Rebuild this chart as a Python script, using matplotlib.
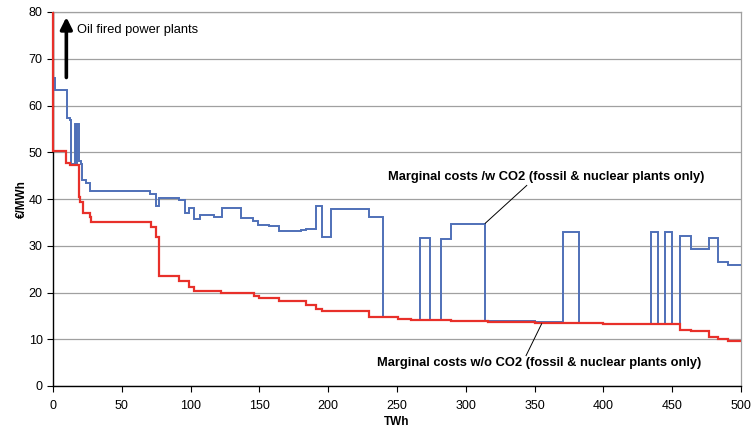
import matplotlib
matplotlib.use("Agg")
import matplotlib.pyplot as plt

plt.rcParams["font.family"] = ["Liberation Sans", "DejaVu Sans"]

# step edges (TWh) and levels (EUR/MWh)
red_edges = [0, 0, 9.7, 12.6, 18.8, 19.6, 21.7, 26.6, 27.3, 71.0, 75.0, 77.3,
             91.8, 99.1, 102.7, 122, 146, 150, 164, 184, 191.3, 195.7, 229.5,
             251, 260, 289, 316, 350, 400, 455.5, 463.8, 477, 483, 490.5, 500]
red_levels = [80, 50.2, 47.7, 47.2, 40.4, 39.3, 36.9, 36.2, 35.0, 34.0, 31.8,
              23.5, 22.5, 21.1, 20.4, 19.9, 19.3, 18.9, 18.1, 17.4, 16.5, 16.1,
              14.7, 14.4, 14.1, 13.9, 13.7, 13.5, 13.3, 12.0, 11.8, 10.4, 10.1, 9.6]

blue_edges = [0, 1.2, 10.1, 12.1, 12.8, 16.3, 17.0, 17.6, 18.6, 20.0, 21.3,
              24.2, 26.8, 70.5, 75.0, 76.8, 91.8, 96.0, 99.2, 102.8, 106.9,
              117, 122.7, 136.5, 145.2, 149, 157.3, 164, 180, 183.6, 190.9,
              195.2, 201.7, 229.5, 239.9, 251, 260, 266.4, 274.2, 281.9, 289.4,
              314.1, 350, 370.8, 382.2, 400, 434.4, 439.7, 444.9, 450, 455.5,
              463.8, 477.1, 483.1, 490.4, 500]
blue_levels = [65.8, 63.4, 57.4, 57.0, 47.4, 56.1, 47.4, 56.1, 48.2, 47.5,
               44.0, 43.4, 41.8, 41.0, 38.4, 40.3, 39.7, 37.1, 38.0, 35.7,
               36.5, 36.2, 38.1, 36.0, 35.3, 34.5, 34.2, 33.1, 33.4, 33.6,
               38.6, 31.8, 37.9, 36.1, 14.7, 14.4, 14.1, 31.7, 14.1, 31.5,
               34.7, 13.8, 13.6, 33.0, 13.5, 13.3, 33.0, 13.3, 33.0, 13.3,
               32.0, 29.4, 31.7, 26.6, 25.9]

x_ticks = [0, 50, 100, 150, 200, 250, 300, 350, 400, 450, 500]
y_ticks = [0, 10, 20, 30, 40, 50, 60, 70, 80]

BLUE = "#4f70b8"
RED = "#e8302a"


def main() -> None:
    fig = plt.figure(figsize=(7.55, 4.32), dpi=100)
    ax = fig.add_axes([53 / 755, 1 - 386 / 432, 688 / 755, 374 / 432])

    ax.stairs(blue_levels, blue_edges, baseline=None, color=BLUE, linewidth=1.4, zorder=3)
    ax.stairs(red_levels, red_edges, baseline=None, color=RED, linewidth=1.6, zorder=4,
              clip_on=False)

    ax.set_xlim(0, 500)
    ax.set_ylim(0, 80)
    ax.set_xticks(x_ticks)
    ax.set_yticks(y_ticks)
    ax.tick_params(labelsize=9, length=4, width=0.8, direction="out", colors="black")
    ax.tick_params(axis="x", pad=6)
    ax.yaxis.grid(True, color="#a0a0a0", linewidth=0.9, zorder=1)
    ax.set_axisbelow(True)

    for side in ("top", "right"):
        ax.spines[side].set_color("#a0a0a0")
        ax.spines[side].set_linewidth(0.9)
    for side in ("left", "bottom"):
        ax.spines[side].set_linewidth(1.0)

    ax.set_xlabel("TWh", fontsize=8.5, fontweight="bold")
    ax.set_ylabel("€/MWh", fontsize=8.5, fontweight="bold")
    ax.xaxis.set_label_coords(0.5, -0.08)
    ax.yaxis.set_label_coords(-0.037, 0.5)

    ax.annotate("", xy=(9.7, 79.5), xytext=(9.7, 65.4),
                arrowprops=dict(arrowstyle="-|>,head_width=0.35,head_length=0.7",
                                color="black", linewidth=2.6))
    ax.text(17.4, 76.1, "Oil fired power plants", fontsize=9.3, va="center", ha="left")

    ax.text(358.3, 44.8, "Marginal costs /w CO2 (fossil & nuclear plants only)",
            fontsize=9.3, fontweight="bold", ha="center", va="center")
    ax.plot([314.1, 344.3], [34.8, 42.9], color="black", linewidth=0.7, zorder=5)

    ax.text(353, 4.9, "Marginal costs w/o CO2 (fossil & nuclear plants only)",
            fontsize=9.3, fontweight="bold", ha="center", va="center")
    ax.plot([355.1, 343.8], [13.3, 6.5], color="black", linewidth=0.7, zorder=5)

    fig.savefig("out.png", dpi=100)
    plt.close(fig)


if __name__ == "__main__":
    main()
